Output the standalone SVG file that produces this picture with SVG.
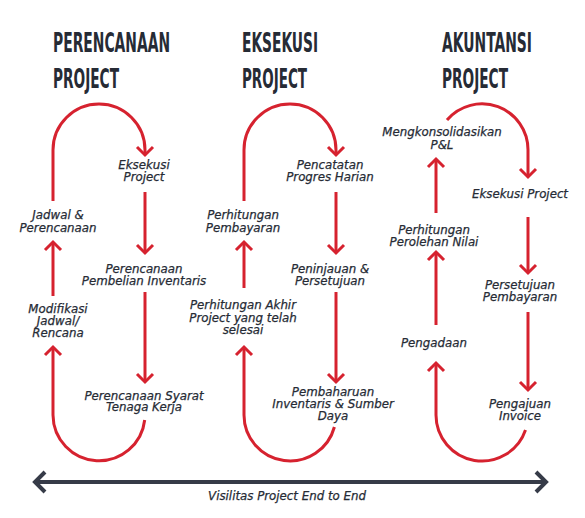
<svg xmlns="http://www.w3.org/2000/svg" width="585" height="518" viewBox="0 0 585 518">
<defs>
<style>
.title{font-family:"Liberation Sans Narrow","DejaVu Sans Condensed","Liberation Sans",sans-serif;font-weight:bold;font-size:27px;fill:#262b35}
.lbl{font-family:"DejaVu Sans",sans-serif;font-style:oblique;font-size:11.8px;fill:#262b35;stroke:#262b35;stroke-width:0.25;text-anchor:middle}
.red{fill:none;stroke:#d6222f;stroke-width:3}
.axis{fill:none;stroke:#363b48;stroke-width:4}
</style>
<marker id="ar" viewBox="-12 -12 24 24" refX="0" refY="0" markerWidth="24" markerHeight="24" markerUnits="userSpaceOnUse" orient="auto">
<path d="M-8,-8 L0,0 L-8,8" fill="none" stroke="#d6222f" stroke-width="3"/>
</marker>
<marker id="ax" viewBox="-14 -14 28 28" refX="0" refY="0" markerWidth="28" markerHeight="28" markerUnits="userSpaceOnUse" orient="auto-start-reverse">
<path d="M-10,-10 L0,0 L-10,10" fill="none" stroke="#363b48" stroke-width="4"/>
</marker>
</defs>
<rect width="585" height="518" fill="#ffffff"/>

<g id="titles">
<text class="title" x="53" y="52" textLength="117" lengthAdjust="spacingAndGlyphs">PERENCANAAN</text>
<text class="title" x="53" y="88" textLength="66" lengthAdjust="spacingAndGlyphs">PROJECT</text>
<text class="title" x="242" y="52" textLength="76" lengthAdjust="spacingAndGlyphs">EKSEKUSI</text>
<text class="title" x="242" y="88" textLength="65" lengthAdjust="spacingAndGlyphs">PROJECT</text>
<text class="title" x="442" y="52" textLength="90" lengthAdjust="spacingAndGlyphs">AKUNTANSI</text>
<text class="title" x="442" y="88" textLength="66" lengthAdjust="spacingAndGlyphs">PROJECT</text>
</g>

<g id="connectors">
<path class="red" marker-end="url(#ar)" d="M53,201 L53,150 A46,46 0 0 1 145,150 L145,155"/>
<path class="red" marker-end="url(#ar)" d="M145,192 L145,253"/>
<path class="red" marker-end="url(#ar)" d="M145,292 L145,382"/>
<path class="red" marker-end="url(#ar)" d="M144.7,420 A46,46 0 0 1 53,415 L53,347"/>
<path class="red" marker-end="url(#ar)" d="M53,296 L53,242"/>

<path class="red" marker-end="url(#ar)" d="M244,201 L244,150 A46,46 0 0 1 336,150 L336,155"/>
<path class="red" marker-end="url(#ar)" d="M336,192 L336,253"/>
<path class="red" marker-end="url(#ar)" d="M336,292 L336,382"/>
<path class="red" marker-end="url(#ar)" d="M334.4,427 A46,46 0 0 1 244,415 L244,347"/>
<path class="red" marker-end="url(#ar)" d="M244,288 L244,242"/>

<path class="red" marker-end="url(#ar)" d="M447,120 A46,46 0 0 1 528,150 L528,177"/>
<path class="red" marker-end="url(#ar)" d="M528,217 L528,273"/>
<path class="red" marker-end="url(#ar)" d="M528,312 L528,390"/>
<path class="red" marker-end="url(#ar)" d="M525.5,430 A46,46 0 0 1 436,415 L436,363"/>
<path class="red" marker-end="url(#ar)" d="M436,325 L436,252"/>
<path class="red" marker-end="url(#ar)" d="M436,213 L436,159"/>

<path class="axis" marker-start="url(#ax)" marker-end="url(#ax)" d="M35,482 L546,482"/>
</g>

<g id="n-eksekusi-project-1"><text class="lbl" x="144" y="169">Eksekusi</text><text class="lbl" x="144" y="181">Project</text></g>
<g id="n-pembelian"><text class="lbl" x="144" y="273">Perencanaan</text><text class="lbl" x="144" y="285">Pembelian Inventaris</text></g>
<g id="n-syarat"><text class="lbl" x="144" y="400">Perencanaan Syarat</text><text class="lbl" x="144" y="411">Tenaga Kerja</text></g>
<g id="n-jadwal"><text class="lbl" x="58" y="219">Jadwal &amp;</text><text class="lbl" x="58" y="232">Perencanaan</text></g>
<g id="n-modifikasi"><text class="lbl" x="58" y="313">Modifikasi</text><text class="lbl" x="58" y="325">Jadwal/</text><text class="lbl" x="58" y="337">Rencana</text></g>

<g id="n-pencatatan"><text class="lbl" x="330" y="169">Pencatatan</text><text class="lbl" x="330" y="181">Progres Harian</text></g>
<g id="n-peninjauan"><text class="lbl" x="330" y="273">Peninjauan &amp;</text><text class="lbl" x="330" y="285">Persetujuan</text></g>
<g id="n-pembaharuan"><text class="lbl" x="333" y="396">Pembaharuan</text><text class="lbl" x="333" y="408">Inventaris &amp; Sumber</text><text class="lbl" x="333" y="420">Daya</text></g>
<g id="n-pembayaran"><text class="lbl" x="243" y="219">Perhitungan</text><text class="lbl" x="243" y="232">Pembayaran</text></g>
<g id="n-akhir"><text class="lbl" x="243" y="309">Perhitungan Akhir</text><text class="lbl" x="243" y="322">Project yang telah</text><text class="lbl" x="243" y="334">selesai</text></g>

<g id="n-konsolidasi"><text class="lbl" x="442" y="136">Mengkonsolidasikan</text><text class="lbl" x="442" y="149">P&amp;L</text></g>
<g id="n-eksekusi-project-3"><text class="lbl" x="520" y="198">Eksekusi Project</text></g>
<g id="n-persetujuan"><text class="lbl" x="520" y="289">Persetujuan</text><text class="lbl" x="520" y="301">Pembayaran</text></g>
<g id="n-invoice"><text class="lbl" x="520" y="408">Pengajuan</text><text class="lbl" x="520" y="420">Invoice</text></g>
<g id="n-nilai"><text class="lbl" x="434" y="234">Perhitungan</text><text class="lbl" x="434" y="246">Perolehan Nilai</text></g>
<g id="n-pengadaan"><text class="lbl" x="434" y="347">Pengadaan</text></g>

<g id="footer"><text class="lbl" x="287" y="500">Visilitas Project End to End</text></g>
</svg>
